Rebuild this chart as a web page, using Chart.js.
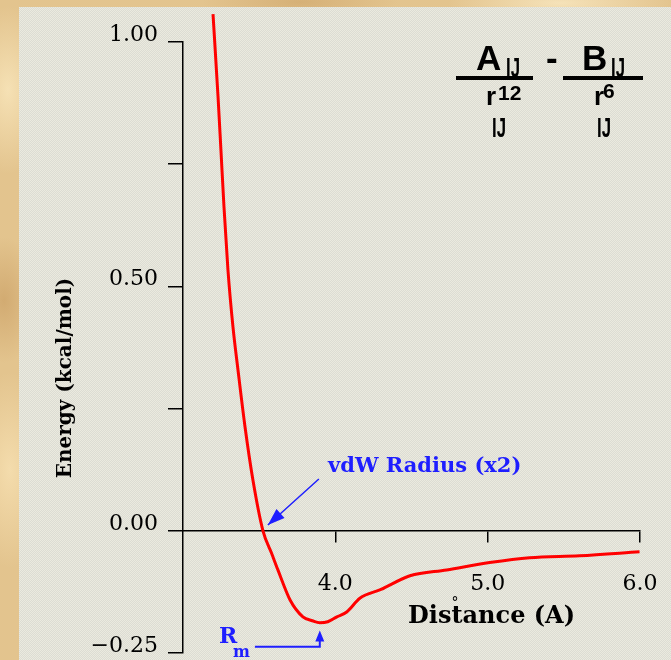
<!DOCTYPE html>
<html>
<head>
<meta charset="utf-8">
<script src="https://cdn.jsdelivr.net/npm/chart.js@4.4.0/dist/chart.umd.min.js"></script>
<style>
  html, body { margin: 0; padding: 0; }
  body {
    width: 671px; height: 660px; overflow: hidden;
    background:
      radial-gradient(ellipse 60px 120px at 8px 90px, rgba(250,232,190,0.8), rgba(250,232,190,0) 70%),
      radial-gradient(ellipse 50px 90px at 4px 300px, rgba(196,150,90,0.55), rgba(196,150,90,0) 70%),
      radial-gradient(ellipse 60px 140px at 10px 470px, rgba(248,226,180,0.8), rgba(248,226,180,0) 70%),
      radial-gradient(ellipse 140px 30px at 300px 2px, rgba(200,156,96,0.5), rgba(200,156,96,0) 70%),
      radial-gradient(ellipse 160px 30px at 560px 3px, rgba(250,234,196,0.8), rgba(250,234,196,0) 70%),
      #e3c48e;
  }
  #wrap { position: absolute; left: 0; top: 0; width: 671px; height: 660px; }
</style>
</head>
<body>
<div id="wrap"><canvas id="ljChart"></canvas></div>
<script>
// Lennard-Jones curve
const distances = [3.197, 3.230, 3.249, 3.269, 3.295, 3.328, 3.361, 3.407, 3.459, 3.525, 3.584, 3.623, 3.702, 3.787, 3.850, 3.898, 3.950, 4.010, 4.075, 4.161, 4.300, 4.490, 4.731, 5.013, 5.275, 5.603, 5.997];
const energies  = [1.057, 0.888, 0.779, 0.663, 0.534, 0.417, 0.329, 0.213, 0.104, 0.000, -0.048, -0.080, -0.141, -0.176, -0.184, -0.188, -0.186, -0.176, -0.166, -0.138, -0.120, -0.092, -0.080, -0.065, -0.055, -0.051, -0.043];

const xTickValues = [4, 5, 6];
const xTickLabels = ['4.0', '5.0', '6.0'];
const yTickValues = [-0.25, 0, 0.25, 0.5, 0.75, 1.0];
const yTickLabels = ['\u22120.25', '0.00', '', '0.50', '', '1.00'];

// panel dither pattern
function makePattern(ctx) {
  const c = document.createElement('canvas');
  c.width = 2; c.height = 2;
  const p = c.getContext('2d');
  p.fillStyle = '#ebeadf'; p.fillRect(0, 0, 2, 2);
  p.fillStyle = '#dcdcd3'; p.fillRect(1, 0, 1, 1); p.fillRect(0, 1, 1, 1);
  return ctx.createPattern(c, 'repeat');
}

function arrowHead(ctx, fx, fy, tx, ty, len, half) {
  const a = Math.atan2(ty - fy, tx - fx);
  ctx.beginPath();
  ctx.moveTo(tx, ty);
  ctx.lineTo(tx - len * Math.cos(a) + half * Math.sin(a), ty - len * Math.sin(a) - half * Math.cos(a));
  ctx.lineTo(tx - len * Math.cos(a) - half * Math.sin(a), ty - len * Math.sin(a) + half * Math.cos(a));
  ctx.closePath();
  ctx.fill();
}

// narrow text for the ij subscripts
function squeezed(ctx, text, x, y, sx) {
  ctx.save();
  ctx.translate(x, y);
  ctx.scale(sx, 1);
  ctx.fillText(text, 0, 0);
  ctx.restore();
}

const panelPlugin = {
  id: 'panel',
  beforeDraw(chart) {
    const ctx = chart.ctx;
    ctx.save();
    ctx.fillStyle = makePattern(ctx);
    ctx.fillRect(19, 7, chart.width - 19, chart.height - 7);
    ctx.restore();
  }
};

const notesPlugin = {
  id: 'notes',
  afterDraw(chart) {
    const ctx = chart.ctx;
    const xs = chart.scales.x, ys = chart.scales.y;
    ctx.save();

    // y title
    ctx.fillStyle = '#000';
    ctx.font = 'bold 20px "DejaVu Serif"';
    ctx.textAlign = 'center';
    ctx.textBaseline = 'middle';
    ctx.translate(66, 378);
    ctx.rotate(-Math.PI / 2);
    ctx.fillText('Energy (kcal/mol)', 0, 0);
    ctx.setTransform(1, 0, 0, 1, 0, 0);

    // x title
    ctx.textAlign = 'left';
    ctx.textBaseline = 'alphabetic';
    ctx.font = 'bold 24px "DejaVu Serif"';
    ctx.fillText('Distance (A)', 408, 623);
    ctx.font = '14px "DejaVu Serif"';
    ctx.textAlign = 'center';
    ctx.fillText('\u00b0', 455, 607);

    // formula
    ctx.textAlign = 'left';
    ctx.font = 'bold 35px "Liberation Sans"';
    ctx.fillText('A', 476, 70);
    ctx.fillText('-', 546, 70);
    ctx.fillText('B', 582, 70);
    ctx.font = 'bold 27px "Liberation Sans"';
    squeezed(ctx, 'IJ', 506, 77, 0.62);
    squeezed(ctx, 'IJ', 611, 77, 0.62);
    squeezed(ctx, 'IJ', 492, 137, 0.62);
    squeezed(ctx, 'IJ', 597, 137, 0.62);
    ctx.font = 'bold 26px "Liberation Sans"';
    ctx.fillText('r', 486, 105);
    ctx.fillText('r', 594, 105);
    ctx.font = 'bold 21px "Liberation Sans"';
    ctx.fillText('12', 498, 100);
    ctx.fillText('6', 603, 98);
    ctx.fillRect(456, 76, 77, 4);
    ctx.fillRect(563, 76, 80, 4);

    // vdW radius note
    const blue = '#1e1eff';
    ctx.fillStyle = blue;
    ctx.strokeStyle = blue;
    ctx.font = 'bold 21px "DejaVu Serif"';
    ctx.fillText('vdW Radius (x2)', 328, 472);
    const tx = xs.getPixelForValue(3.557), ty = ys.getPixelForValue(0.012);
    const fx = xs.getPixelForValue(3.892), fy = ys.getPixelForValue(0.106);
    ctx.lineWidth = 1.5;
    ctx.beginPath();
    ctx.moveTo(fx, fy);
    ctx.lineTo(tx, ty);
    ctx.stroke();
    arrowHead(ctx, fx, fy, tx, ty, 17, 6);

    // Rm note
    ctx.font = 'bold 22px "DejaVu Serif"';
    ctx.fillText('R', 219, 643);
    ctx.font = 'bold 16px "DejaVu Serif"';
    ctx.fillText('m', 233, 657);
    const lx0 = xs.getPixelForValue(3.472), lx1 = xs.getPixelForValue(3.898);
    const ly = ys.getPixelForValue(-0.237), tipY = ys.getPixelForValue(-0.204);
    ctx.lineWidth = 2;
    ctx.beginPath();
    ctx.moveTo(lx0, ly);
    ctx.lineTo(lx1, ly);
    ctx.lineTo(lx1, ly - 6);
    ctx.stroke();
    arrowHead(ctx, lx1, ly, lx1, tipY, 11, 4.5);

    ctx.restore();
  }
};

new Chart(document.getElementById('ljChart'), {
  type: 'line',
  data: {
    datasets: [{
      data: distances.map((d, i) => ({ x: d, y: energies[i] })),
      borderColor: '#ff0000',
      borderWidth: 3,
      pointRadius: 0,
      cubicInterpolationMode: 'monotone',
      clip: false
    }]
  },
  options: {
    responsive: true,
    maintainAspectRatio: false,
    animation: false,
    layout: { padding: { left: 0, top: 42, right: 31, bottom: 7 } },
    plugins: { legend: { display: false }, tooltip: { enabled: false } },
    scales: {
      x: {
        type: 'linear',
        position: { y: 0 },
        min: 3, max: 6,
        afterBuildTicks: s => { s.ticks = xTickValues.map(v => ({ value: v })); },
        afterFit: s => { s.paddingLeft = 0; s.paddingRight = 0; },
        ticks: {
          callback: (v, i) => xTickLabels[i],
          color: '#000',
          padding: 29,
          maxRotation: 0,
          font: { family: 'DejaVu Serif', size: 22 }
        },
        grid: { drawOnChartArea: false, drawTicks: true, tickLength: 11, color: '#000', lineWidth: 1.5 },
        border: { display: true, color: '#000', width: 1.5 }
      },
      y: {
        type: 'linear',
        min: -0.25, max: 1.0,
        afterBuildTicks: s => { s.ticks = yTickValues.map(v => ({ value: v })); },
        afterFit: s => { s.width = 183; s.paddingTop = 0; s.paddingBottom = 0; },
        ticks: {
          callback: (v, i) => yTickLabels[i],
          color: '#000',
          padding: 10,
          labelOffset: -7,
          font: { family: 'DejaVu Serif', size: 22 }
        },
        grid: { drawOnChartArea: false, drawTicks: true, tickLength: 15, color: '#000', lineWidth: 1.5 },
        border: { display: true, color: '#000', width: 1.5 }
      }
    }
  },
  plugins: [panelPlugin, notesPlugin]
});
</script>
</body>
</html>
